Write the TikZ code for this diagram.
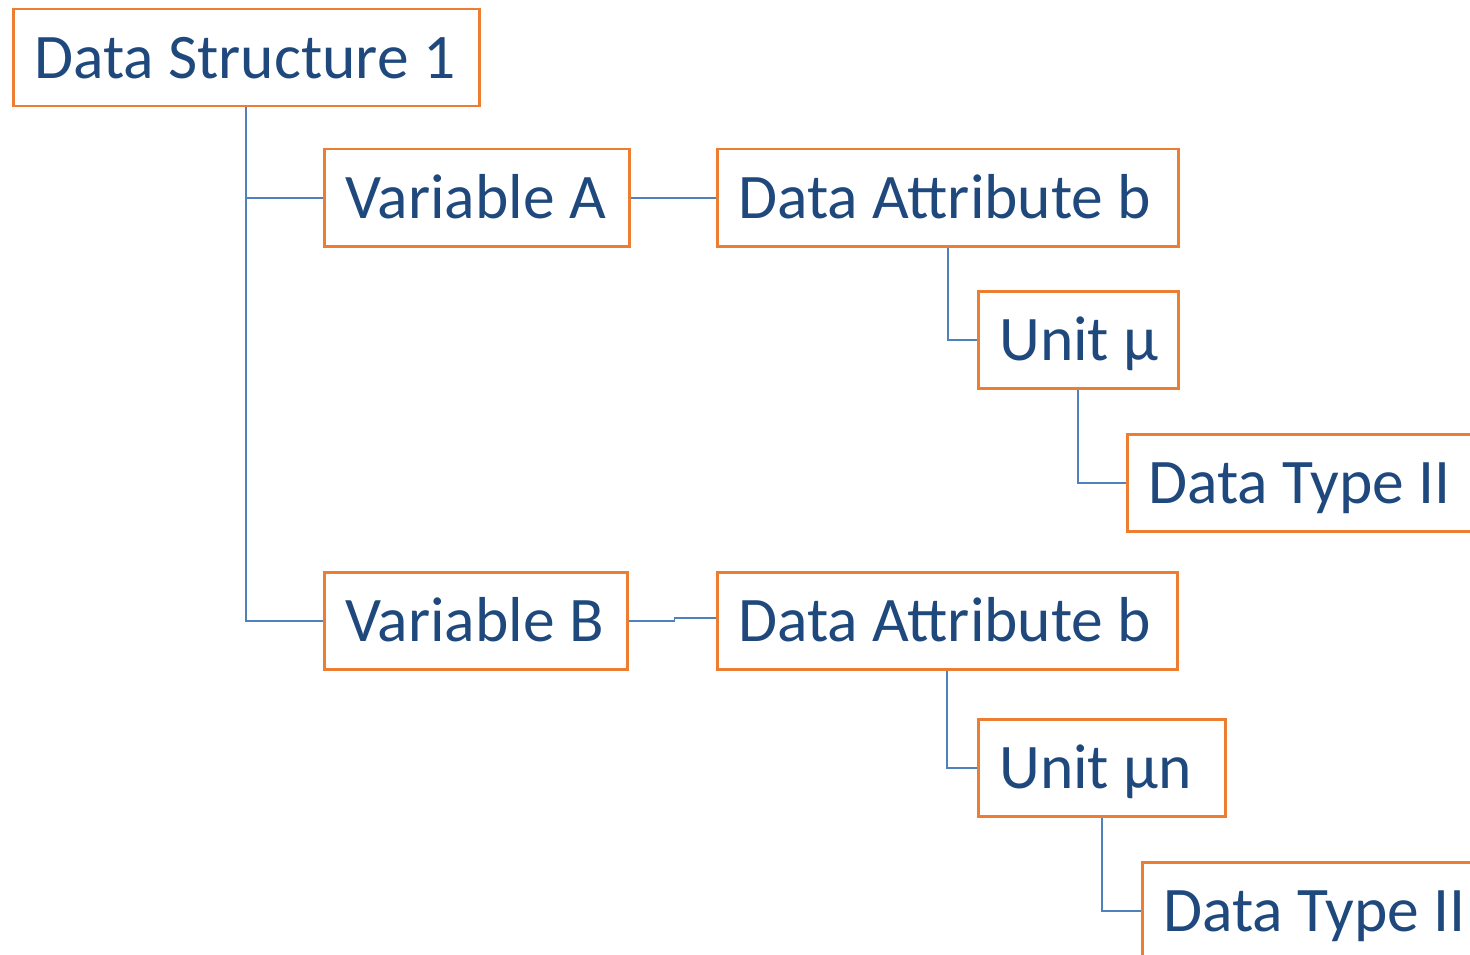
\documentclass[tikz,border=0pt]{standalone}
\usepackage{fontspec}
\setmainfont{Carlito}
\definecolor{boxorange}{HTML}{ED7D31}
\definecolor{txtblue}{HTML}{1F497D}
\definecolor{linkblue}{HTML}{4F81BD}
\newcommand{\boxtxt}[2]{\makebox[\dimexpr#1-42pt\relax][l]{#2}}
\begin{document}
\begin{tikzpicture}[x=1pt,y=-1pt,
  box/.style={draw=boxorange,line width=2.5pt,rectangle,anchor=north west,
    inner xsep=21pt,inner ysep=0pt,minimum height=97pt,text height=41pt,text depth=0pt,
    text=txtblue,font=\fontsize{63.5}{70}\selectfont},
  link/.style={draw=linkblue,line width=1.8pt}]
\useasboundingbox (0,0) rectangle (1470,955);
\node[box] (ds) at (12,8) {\boxtxt{466pt}{Data Structure 1}};
\node[box] (va) at (323,148) {\boxtxt{305pt}{Variable A}};
\node[box] (daA) at (716,148) {\boxtxt{461pt}{Data Attribute b}};
\node[box] (uA) at (977,290) {\boxtxt{200pt}{Unit µ}};
\node[box] (dtA) at (1126,433) {\boxtxt{370pt}{Data Type II}};
\node[box] (vb) at (323,571) {\boxtxt{303pt}{Variable B}};
\node[box] (daB) at (716,571) {\boxtxt{460pt}{Data Attribute b}};
\node[box] (uB) at (977,718) {\boxtxt{247pt}{Unit µn}};
\node[box] (dtB) at (1141,861) {\boxtxt{370pt}{Data Type II}};
\draw[link] (ds.south) |- (va.west);
\draw[link] (ds.south) |- (vb.west);
\draw[link] (va.east) -- ++(44,0) |- (daA.west);
\draw[link] (vb.east) -- ++(46,0) |- ([yshift=3pt]daB.west);
\draw[link] (daA.south) |- (uA.west);
\draw[link] (uA.south) |- (dtA.west);
\draw[link] (daB.south) |- (uB.west);
\draw[link] (uB.south) |- (dtB.west);
\end{tikzpicture}
\end{document}
